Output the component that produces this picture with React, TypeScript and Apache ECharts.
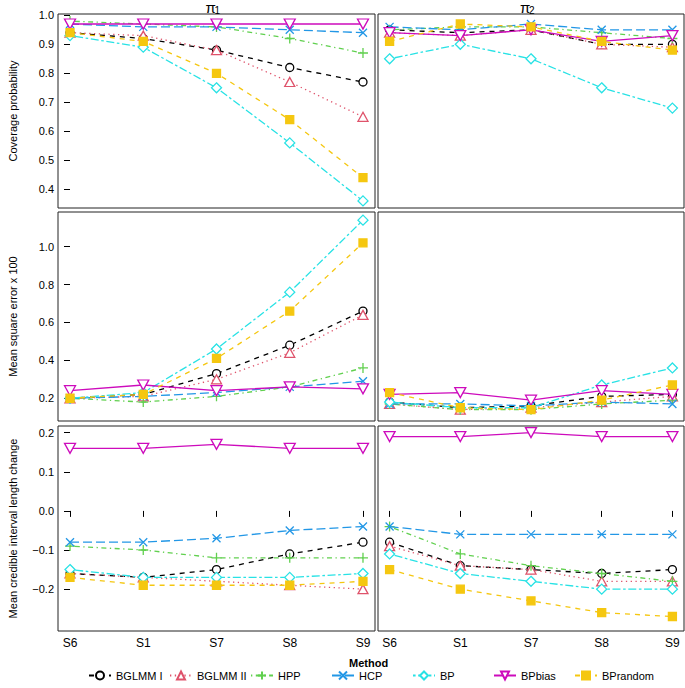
import React, { useEffect, useRef } from 'react';
import * as echarts from 'echarts';

// ---------- data ----------
const categories = ['S6', 'S1', 'S7', 'S8', 'S9'];
const methods = ['BGLMM I', 'BGLMM II', 'HPP', 'HCP', 'BP', 'BPbias', 'BPrandom'];

const yTicksCoverage = [0.4, 0.5, 0.6, 0.7, 0.8, 0.9, 1.0];
const yTicksMSE = [0.2, 0.4, 0.6, 0.8, 1.0];
const yTicksInterval = [-0.2, -0.1, 0.0, 0.1, 0.2];

// rows follow `methods` order
const coveragePi1 = [
  [0.94, 0.92, 0.88, 0.82, 0.77],
  [0.94, 0.93, 0.88, 0.77, 0.65],
  [0.98, 0.97, 0.96, 0.92, 0.87],
  [0.97, 0.96, 0.96, 0.95, 0.94],
  [0.93, 0.89, 0.75, 0.56, 0.36],
  [0.97, 0.97, 0.97, 0.97, 0.97],
  [0.94, 0.91, 0.80, 0.64, 0.44],
];
const coveragePi2 = [
  [0.95, 0.94, 0.95, 0.90, 0.90],
  [0.94, 0.93, 0.95, 0.90, 0.89],
  [0.95, 0.96, 0.96, 0.94, 0.92],
  [0.96, 0.95, 0.97, 0.95, 0.95],
  [0.85, 0.90, 0.85, 0.75, 0.68],
  [0.94, 0.93, 0.95, 0.91, 0.93],
  [0.91, 0.97, 0.96, 0.91, 0.88],
];
const msePi1 = [
  [0.20, 0.22, 0.33, 0.48, 0.66],
  [0.20, 0.21, 0.30, 0.44, 0.64],
  [0.20, 0.18, 0.21, 0.26, 0.36],
  [0.20, 0.21, 0.23, 0.26, 0.29],
  [0.20, 0.23, 0.46, 0.76, 1.14],
  [0.24, 0.27, 0.24, 0.26, 0.25],
  [0.20, 0.22, 0.41, 0.66, 1.02],
];
const msePi2 = [
  [0.18, 0.15, 0.16, 0.21, 0.22],
  [0.17, 0.14, 0.15, 0.18, 0.21],
  [0.17, 0.14, 0.14, 0.17, 0.19],
  [0.17, 0.17, 0.16, 0.18, 0.17],
  [0.18, 0.15, 0.15, 0.27, 0.36],
  [0.22, 0.23, 0.19, 0.24, 0.22],
  [0.23, 0.15, 0.14, 0.19, 0.27],
];
const intervalPi1 = [
  [-0.16, -0.17, -0.15, -0.11, -0.08],
  [-0.16, -0.17, -0.18, -0.19, -0.20],
  [-0.09, -0.10, -0.12, -0.12, -0.12],
  [-0.08, -0.08, -0.07, -0.05, -0.04],
  [-0.15, -0.17, -0.17, -0.17, -0.16],
  [0.16, 0.16, 0.17, 0.16, 0.16],
  [-0.17, -0.19, -0.19, -0.19, -0.18],
];
const intervalPi2 = [
  [-0.08, -0.14, -0.15, -0.16, -0.15],
  [-0.09, -0.14, -0.15, -0.18, -0.18],
  [-0.04, -0.11, -0.14, -0.16, -0.18],
  [-0.04, -0.06, -0.06, -0.06, -0.06],
  [-0.11, -0.16, -0.18, -0.20, -0.20],
  [0.19, 0.19, 0.20, 0.19, 0.19],
  [-0.15, -0.20, -0.23, -0.26, -0.27],
];

// ---------- styles ----------
const FONT = '"Liberation Sans", Arial, Helvetica, sans-serif';
const colors = ['#000000', '#DF536B', '#61D04F', '#2297E6', '#28E2E5', '#CD0BBC', '#F5C710'];
const dashes: any[] = [[5, 5], [1.3, 3.5], [1.3, 3.5, 5, 3.5], [9, 4], [2.6, 2.6, 8, 2.6], 'solid', [5, 5]];
const symbols = [
  'path://M10,5A5,5,0,1,1,0,5A5,5,0,1,1,10,5Z',
  'path://M5,0L10,8.66L0,8.66Z',
  'path://M5,0L5,10M0,5L10,5',
  'path://M0,0L10,10M10,0L0,10',
  'path://M5,0L10,5L5,10L0,5Z',
  'path://M0,0L10,0L5,8.66Z',
  'path://M0,0L10,0L10,10L0,10Z',
];
const symbolSizes: any[] = [8, [10, 9], 10, 8, 10, [11, 10], 8];
const fills = ['#ffffff', '#ffffff', '#ffffff', '#ffffff', '#ffffff', '#ffffff', '#F5C710'];

const cols = [
  { left: 58, width: 317 },
  { left: 378, width: 306 },
];
const rows = [
  { top: 14, height: 194, min: 0.3355, max: 1.0045, ticks: yTicksCoverage, name: 'Coverage probability', data: [coveragePi1, coveragePi2] },
  { top: 212, height: 209, min: 0.08, max: 1.183, ticks: yTicksMSE, name: 'Mean square error x 100', data: [msePi1, msePi2] },
  { top: 426, height: 205, min: -0.307, max: 0.217, ticks: yTicksInterval, name: 'Mean credible interval length change', data: [intervalPi1, intervalPi2] },
];
const legendLefts = [88, 169, 250, 331, 412, 493, 574];

const fmtY = (v: number) => (v < -1e-9 ? '\u2212' : '') + Math.abs(v).toFixed(1);

function buildOption() {
  const grid: any[] = [];
  const xAxis: any[] = [];
  const yAxis: any[] = [];
  const series: any[] = [];
  const xIdx = categories.map((_, i) => i);
  rows.forEach((r, ri) => {
    cols.forEach((c, ci) => {
      const gi = grid.length;
      const bottomRow = ri === rows.length - 1;
      const leftCol = ci === 0;
      grid.push({
        left: c.left, top: r.top, width: c.width, height: r.height,
        show: true, borderColor: '#222', borderWidth: 1, backgroundColor: 'transparent',
        containLabel: false, outerBoundsMode: 'none',
      });
      xAxis.push({
        type: 'value', gridIndex: gi, min: -0.164, max: 4.164,
        axisLine: { show: false }, splitLine: { show: false },
        axisTick: { show: bottomRow, customValues: xIdx, length: 6, lineStyle: { color: '#000', width: 1 } },
        axisLabel: {
          show: bottomRow, customValues: xIdx, margin: 6,
          formatter: (v: number) => categories[Math.round(v)] ?? '',
          fontFamily: FONT, fontSize: 12, color: '#000',
        },
      });
      yAxis.push({
        type: 'value', gridIndex: gi, min: r.min, max: r.max,
        name: leftCol ? r.name : '', nameLocation: 'middle', nameGap: 40,
        nameTextStyle: { fontFamily: FONT, fontSize: 11, color: '#000' },
        axisLine: { show: false }, splitLine: { show: false },
        axisTick: { show: leftCol, customValues: r.ticks, length: 6, lineStyle: { color: '#000', width: 1 } },
        axisLabel: {
          show: leftCol, customValues: r.ticks, margin: 4, formatter: fmtY,
          fontFamily: FONT, fontSize: 11, color: '#000',
        },
      });
      const panel = r.data[ci];
      methods.forEach((m, mi) => {
        series.push({
          type: 'line', name: m, xAxisIndex: gi, yAxisIndex: gi,
          data: panel[mi].map((v, i) => [i, v]),
          symbol: symbols[mi], symbolSize: symbolSizes[mi],
          lineStyle: { color: colors[mi], width: 1.3, type: dashes[mi] },
          itemStyle: { color: fills[mi], borderColor: colors[mi], borderWidth: 1.3 },
          emphasis: { disabled: true }, silent: true, z: 2 + mi * 0.01,
        });
      });
    });
  });

  const legend = methods.map((m, i) => ({
    data: [m], left: legendLefts[i], top: 670, orient: 'horizontal',
    itemWidth: 22, itemHeight: 10, padding: 0, selectedMode: false,
    textStyle: { fontFamily: FONT, fontSize: 11, color: '#000' },
  }));

  const graphic: any[] = [];
  cols.forEach((c, ci) => {
    const cx = c.left + c.width / 2;
    graphic.push({ type: 'text', left: cx - 11, top: 0, style: { text: '\u03c0', font: `15px ${FONT}`, fill: '#000' } });
    graphic.push({ type: 'text', left: cx - 2, top: 5, style: { text: String(ci + 1), font: `10px ${FONT}`, fill: '#000' } });
  });
  graphic.push({
    type: 'text', left: 349, top: 657,
    style: { text: 'Method', font: `bold 11px ${FONT}`, fill: '#000' },
  });

  return { animation: false, backgroundColor: '#fff', grid, xAxis, yAxis, series, legend, graphic };
}

export default function App() {
  const ref = useRef<HTMLDivElement>(null);
  useEffect(() => {
    document.body.style.margin = '0';
    const chart = echarts.init(ref.current!, undefined, { renderer: 'svg' });
    chart.setOption(buildOption());
    return () => chart.dispose();
  }, []);
  return <div ref={ref} style={{ width: 685, height: 688 }} />;
}
